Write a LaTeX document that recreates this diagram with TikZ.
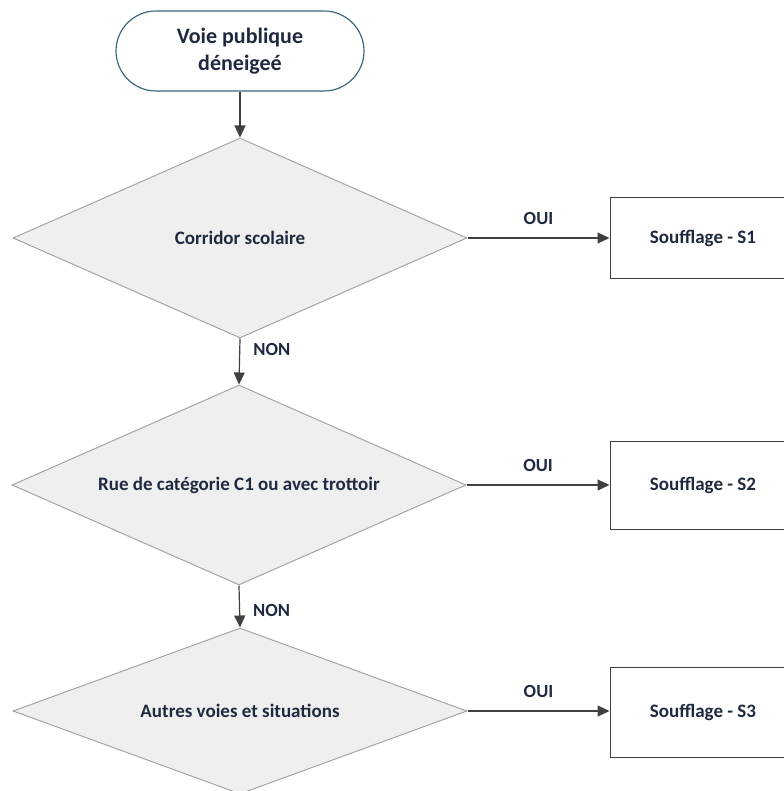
\documentclass[tikz,border=0pt]{standalone}
\usepackage{fontspec}
\setmainfont{Carlito}
\usepackage{xcolor}
\usetikzlibrary{shapes.geometric, arrows.meta, positioning}
\definecolor{labeltext}{HTML}{1F2940}
\definecolor{startline}{HTML}{3B6A7E}
\definecolor{diamondfill}{HTML}{EFEFEF}
\definecolor{diamondline}{HTML}{A5A5A5}
\definecolor{flowline}{HTML}{404040}

\begin{document}
\begin{tikzpicture}[x=1pt, y=-1pt]
	
	\tikzset{terminal box/.style={
			draw=startline, line width=1.2pt, fill=white,
			rounded corners=40pt,
			minimum width=248pt, minimum height=80pt,
			align=center, text=labeltext,
			font=\fontsize{22}{27}\selectfont\bfseries
		},
		decision box/.style={
			diamond, aspect=2.27, draw=diamondline, fill=diamondfill, line width=1pt,
			inner sep=0pt, minimum width=454pt, minimum height=#1,
			text=labeltext, font=\fontsize{19}{23}\selectfont\bfseries
		},
		decision box/.default=200pt,
		action box/.style={
			draw=flowline, line width=1pt, fill=white,
			minimum width=186pt, minimum height=#1,
			text=labeltext, font=\fontsize{19}{23}\selectfont\bfseries
		},
		action box/.default=88pt,
		flow arrow/.style={
			draw=flowline, line width=1.2pt,
			-{Triangle[length=12pt,width=11pt]}
		},
		flow label/.style={
			text=labeltext, inner sep=0pt,
			font=\fontsize{18.5}{22}\selectfont\bfseries
		}
	}
	
	\useasboundingbox (0,0) rectangle (783,791);
	
	\node[terminal box] (start) at (240,51) {Voie publique\\déneigeé};
	
	\node[decision box] (corridor) at (240,238) {Corridor scolaire};
	\node[decision box] (categorie) at (239,485) {Rue de catégorie C1 ou avec trottoir};
	\node[decision box=166pt] (autres) at (240,711) {Autres voies et situations};
	
	\node[action box=80pt] (s1) at (703,238) {Soufflage - S1};
	\node[action box] (s2) at (703,485) {Soufflage - S2};
	\node[action box=90pt] (s3) at (703,712) {Soufflage - S3};
	
	\draw[flow arrow] (start.south) -- (corridor.north);
	\draw[flow arrow] (corridor.south) -- node[flow label, right=13pt, pos=.24] (non1) {NON} (categorie.north);
	\draw[flow arrow] (categorie.south) -- node[flow label, right=13pt, pos=.6] (non2) {NON} (autres.north);
	
	\draw[flow arrow] (corridor.east) -- node[flow label, above=13pt] (oui1) {OUI} (s1.west |- corridor.east);
	\draw[flow arrow] (categorie.east) -- node[flow label, above=13pt] (oui2) {OUI} (s2.west |- categorie.east);
	\draw[flow arrow] (autres.east) -- node[flow label, above=13pt] (oui3) {OUI} (s3.west |- autres.east);
	
\end{tikzpicture}
\end{document}
